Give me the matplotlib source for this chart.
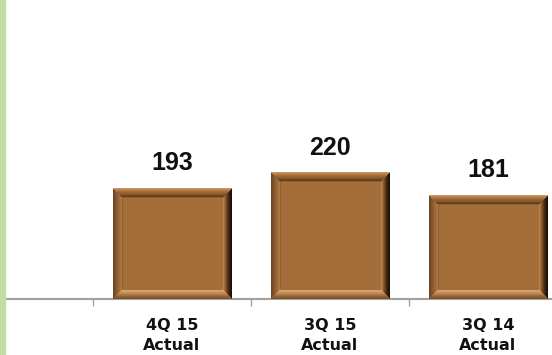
import numpy as np
import matplotlib
matplotlib.use('Agg')
import matplotlib.pyplot as plt
from matplotlib.colors import to_rgb
from matplotlib.patches import Rectangle

categories = ['4Q 15\nActual', '3Q 15\nActual', '3Q 14\nActual']
values = [193, 220, 181]

W, H = 552, 355
fig = plt.figure(figsize=(W / 100, H / 100), dpi=100)
fig.patches.append(Rectangle((0, 0), 5 / W, 1, transform=fig.transFigure,
                             color='#c3dca5', zorder=0))
ax = fig.add_axes([5 / W, 56 / H, 547 / W, 287 / H])
x = np.arange(len(values))
XLIM = (-1.057, 2.405)
YLIM = (0, 500)

ax.set_xticks(x, categories, fontweight='bold', fontsize=11.5, family='DejaVu Sans',
              linespacing=1.45, color='#111111')
ax.set_xticks(np.arange(-0.5, len(values) - 0.5, 1), minor=True)
ax.set_xlim(*XLIM)
ax.set_ylim(*YLIM)

face = np.array(to_rgb('#a46e3b'))
bars = ax.bar(x, values, width=0.75, color='#a46e3b', zorder=2)

B = 9
grads = {
    'top': ['#c8955f', '#a8713d', '#8e5c2e', '#5e3c1a'],
    'left': ['#6a4624', '#845630', '#9c6736', '#ad7742'],
    'right': ['#1c1006', '#3e2610', '#7a4f27', '#b8834f'],
    'bottom': ['#7a5028', '#9c6938', '#c08b58', '#d6a472'],
}

def grad_color(name, t):
    cols = np.array([to_rgb(c) for c in grads[name]])
    pos = np.linspace(0, 1, len(cols))
    return np.array([np.interp(t, pos, cols[:, k]) for k in range(3)]).T

for bar in bars:
    bb = bar.get_window_extent()
    w = int(round(bb.width))
    h = int(round(bb.height))
    jj, ii = np.meshgrid(np.arange(w), np.arange(h))
    d = np.stack([ii, h - 1 - ii, jj, w - 1 - jj])  # top, bottom, left, right
    side = np.argmin(d, axis=0)
    dmin = np.min(d, axis=0)
    img = np.tile(face, (h, w, 1)).astype(float)
    names = ['top', 'bottom', 'left', 'right']
    for s, name in enumerate(names):
        m = (side == s) & (dmin < B)
        t = dmin[m] / (B - 1)
        img[m] = grad_color(name, t)
    m = (dmin == B) & ((side == 0) | (side == 2))
    img[m] = img[m] * 0.88
    ax.imshow(img, extent=(bar.get_x(), bar.get_x() + bar.get_width(), 0, bar.get_height()),
              origin='upper', aspect='auto', interpolation='nearest', zorder=3)

ax.set_xlim(*XLIM)
ax.set_ylim(*YLIM)

for xi, v in zip(x, values):
    ax.annotate(str(v), (xi, v), xytext=(0, 13), textcoords='offset points',
                ha='center', va='baseline', fontsize=18, fontweight='heavy',
                family='Liberation Sans', color='#111111')

ax.tick_params(axis='x', which='major', length=0, pad=13.5)
ax.tick_params(axis='x', which='minor', length=5, width=1, color='#a0a0a0')
ax.set_yticks([])
for s in ['top', 'right', 'left']:
    ax.spines[s].set_visible(False)
ax.spines['bottom'].set_color('#a0a0a0')
ax.spines['bottom'].set_linewidth(1.5)
ax.patch.set_alpha(0)

fig.savefig('out.png', dpi=100)
